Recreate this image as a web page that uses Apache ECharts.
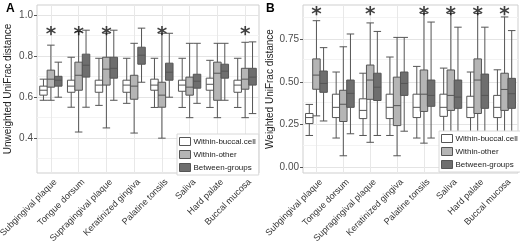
<!DOCTYPE html>
<html>
<head>
<meta charset="utf-8">
<script src="https://cdn.jsdelivr.net/npm/echarts@6/dist/echarts.min.js"></script>
<style>
  html, body { margin: 0; padding: 0; background: #fff; }
  #main { width: 520px; height: 247px; }
</style>
</head>
<body>
<div id="main"></div>
<script>
// 样本部位
var categories = ['Subgingival plaque', 'Tongue dorsum', 'Supragingival plaque', 'Keratinized gingiva',
    'Palatine tonsils', 'Saliva', 'Hard palate', 'Buccal mucosa'];
var groupNames = ['Within-buccal.cell', 'Within-other', 'Between-groups'];

// A: Unweighted UniFrac, 每个箱子 [min, Q1, median, Q3, max]
var buccalA = [
    [0.585, 0.61, 0.634, 0.654, 0.688],
    [0.551, 0.624, 0.654, 0.683, 0.795],
    [0.56, 0.624, 0.659, 0.683, 0.79],
    [0.57, 0.624, 0.659, 0.683, 0.79],
    [0.55, 0.634, 0.659, 0.688, 0.79],
    [0.55, 0.629, 0.659, 0.683, 0.79],
    [0.55, 0.634, 0.663, 0.693, 0.78],
    [0.55, 0.624, 0.659, 0.683, 0.79]
];
var otherA = [
    [0.585, 0.649, 0.688, 0.732, 0.854],
    [0.43, 0.634, 0.707, 0.771, 0.92],
    [0.45, 0.659, 0.737, 0.795, 0.912],
    [0.425, 0.59, 0.654, 0.707, 0.863],
    [0.40, 0.551, 0.61, 0.673, 0.912],
    [0.50, 0.61, 0.649, 0.698, 0.863],
    [0.50, 0.585, 0.717, 0.771, 0.863],
    [0.50, 0.639, 0.688, 0.741, 0.868]
];
var betweenA = [
    [0.60, 0.654, 0.683, 0.702, 0.771],
    [0.551, 0.698, 0.756, 0.81, 0.927],
    [0.585, 0.693, 0.741, 0.795, 0.927],
    [0.673, 0.761, 0.805, 0.844, 0.937],
    [0.60, 0.683, 0.722, 0.766, 0.912],
    [0.57, 0.644, 0.678, 0.712, 0.863],
    [0.585, 0.693, 0.727, 0.761, 0.863],
    [0.52, 0.659, 0.698, 0.741, 0.87]
];

// B: Weighted UniFrac
var buccalB = [
    [0.185, 0.255, 0.29, 0.314, 0.367],
    [0.17, 0.29, 0.35, 0.427, 0.557],
    [0.185, 0.284, 0.332, 0.40, 0.55],
    [0.185, 0.284, 0.35, 0.427, 0.645],
    [0.17, 0.29, 0.35, 0.427, 0.59],
    [0.17, 0.297, 0.35, 0.427, 0.58],
    [0.17, 0.29, 0.35, 0.415, 0.557],
    [0.17, 0.29, 0.35, 0.42, 0.57]
];
var otherB = [
    [0.30, 0.456, 0.539, 0.634, 0.858],
    [0.066, 0.267, 0.368, 0.45, 0.705],
    [0.145, 0.397, 0.51, 0.598, 0.845],
    [0.066, 0.243, 0.36, 0.527, 0.76],
    [0.14, 0.326, 0.427, 0.569, 0.9],
    [0.13, 0.332, 0.42, 0.569, 0.9],
    [0.13, 0.314, 0.51, 0.634, 0.9],
    [0.13, 0.332, 0.455, 0.55, 0.88]
];
var betweenB = [
    [0.27, 0.438, 0.49, 0.563, 0.70],
    [0.195, 0.35, 0.432, 0.51, 0.78],
    [0.185, 0.39, 0.468, 0.55, 0.795],
    [0.21, 0.42, 0.49, 0.557, 0.76],
    [0.17, 0.356, 0.42, 0.51, 0.85],
    [0.17, 0.344, 0.41, 0.51, 0.82],
    [0.17, 0.344, 0.42, 0.545, 0.82],
    [0.16, 0.344, 0.43, 0.52, 0.80]
];

// 显著性星号所在的部位
var starsA = ['Subgingival plaque', 'Tongue dorsum', 'Supragingival plaque', 'Palatine tonsils', 'Buccal mucosa'];
var starsB = ['Subgingival plaque', 'Supragingival plaque', 'Palatine tonsils', 'Saliva', 'Hard palate', 'Buccal mucosa'];
var starYA = 0.905;
var starYB = 0.89;

// 刻度
var ticksA = [0.4, 0.6, 0.8, 1.0];
var minorA = [0.3, 0.5, 0.7, 0.9];
var ticksB = [0, 0.25, 0.5, 0.75];
var minorB = [0.125, 0.375, 0.625, 0.875];

var fills = ['#ffffff', '#b5b5b5', '#6e6e6e'];
var font = 'Liberation Sans, Arial, sans-serif';

function boxSeries(name, data, idx, fill) {
    return {
        name: name,
        type: 'boxplot',
        xAxisIndex: idx,
        yAxisIndex: idx,
        boxWidth: [7.5, 7.5],
        data: data,
        itemStyle: { color: fill, borderColor: '#555', borderWidth: 1 },
        emphasis: { disabled: true }
    };
}

function gridLines(major, minor) {
    var d = [];
    major.forEach(function (v) { d.push({ yAxis: v, lineStyle: { color: '#e4e4e4' } }); });
    minor.forEach(function (v) { d.push({ yAxis: v, lineStyle: { color: '#f3f3f3' } }); });
    categories.forEach(function (c) { d.push({ xAxis: c, lineStyle: { color: '#e8e8e8' } }); });
    return d;
}

function starSeries(cats, y, idx, major, minor) {
    return {
        type: 'scatter',
        xAxisIndex: idx,
        yAxisIndex: idx,
        symbolSize: 0,
        data: cats.map(function (c) { return [c, y]; }),
        label: {
            show: true, formatter: '*', position: 'inside', fontSize: 20, fontWeight: 'bold',
            color: '#111', fontFamily: 'DejaVu Sans'
        },
        silent: true,
        markLine: {
            z: 1, silent: true, symbol: 'none', label: { show: false },
            lineStyle: { type: 'solid', width: 1 },
            data: gridLines(major, minor)
        }
    };
}

function xAxis(idx) {
    return {
        type: 'category',
        gridIndex: idx,
        data: categories,
        axisLine: { show: false },
        axisTick: { alignWithLabel: true, length: 3, lineStyle: { color: '#555' } },
        axisLabel: {
            rotate: 45, margin: 3, fontSize: 9, color: '#333', fontFamily: font, interval: 0,
            verticalAlign: 'top', lineHeight: 13
        },
        splitLine: { show: false }
    };
}

function yAxis(idx, min, max, ticks, digits, title, gap) {
    return {
        type: 'value',
        gridIndex: idx,
        min: min,
        max: max,
        name: title,
        nameLocation: 'middle',
        nameGap: gap,
        nameTextStyle: { fontSize: 10, color: '#222', fontFamily: font },
        axisLine: { show: false },
        axisTick: { show: true, length: 3, customValues: ticks, lineStyle: { color: '#555' } },
        axisLabel: {
            fontSize: 10, color: '#4d4d4d', fontFamily: font, margin: 4, customValues: ticks,
            formatter: function (v) { return v.toFixed(digits); }
        },
        splitLine: { show: false }
    };
}

function legend(left, top) {
    return {
        left: left, top: top, orient: 'vertical',
        icon: 'rect', itemWidth: 11, itemHeight: 8, itemGap: 4,
        padding: [3, 3, 3, 2], backgroundColor: '#fff', borderColor: '#d8d8d8', borderWidth: 1,
        textStyle: { fontSize: 8, color: '#222', fontFamily: font, padding: [0, 0, 0, -2] },
        data: groupNames.map(function (n, i) {
            return { name: n, itemStyle: { color: fills[i], borderColor: '#555', borderWidth: 1 } };
        })
    };
}

var myChart = echarts.init(document.getElementById('main'));

var option = {
    animation: false,
    textStyle: { fontFamily: font },
    title: [
        { text: 'A', left: 1, top: -2, textStyle: { fontSize: 12, fontWeight: 'bold', color: '#000', fontFamily: font } },
        { text: 'B', left: 261, top: -2, textStyle: { fontSize: 12, fontWeight: 'bold', color: '#000', fontFamily: font } }
    ],
    grid: [
        { left: 37, right: 261, top: 5, bottom: 74, show: true, borderColor: '#cfcfcf', borderWidth: 1, outerBoundsMode: 'none' },
        { left: 303, right: 2, top: 5, bottom: 74, show: true, borderColor: '#cfcfcf', borderWidth: 1, outerBoundsMode: 'none' }
    ],
    legend: [legend(177, 134), legend(439, 131)],
    xAxis: [xAxis(0), xAxis(1)],
    yAxis: [
        yAxis(0, 0.23, 1.05, ticksA, 1, 'Unweighted UniFrac distance', 24),
        yAxis(1, -0.035, 0.95, ticksB, 2, 'Weighted UniFrac distance', 28)
    ],
    series: [
        starSeries(starsA, starYA, 0, ticksA, minorA),
        starSeries(starsB, starYB, 1, ticksB, minorB),
        boxSeries(groupNames[0], buccalA, 0, fills[0]),
        boxSeries(groupNames[1], otherA, 0, fills[1]),
        boxSeries(groupNames[2], betweenA, 0, fills[2]),
        boxSeries(groupNames[0], buccalB, 1, fills[0]),
        boxSeries(groupNames[1], otherB, 1, fills[1]),
        boxSeries(groupNames[2], betweenB, 1, fills[2])
    ]
};

myChart.setOption(option);
</script>
</body>
</html>
